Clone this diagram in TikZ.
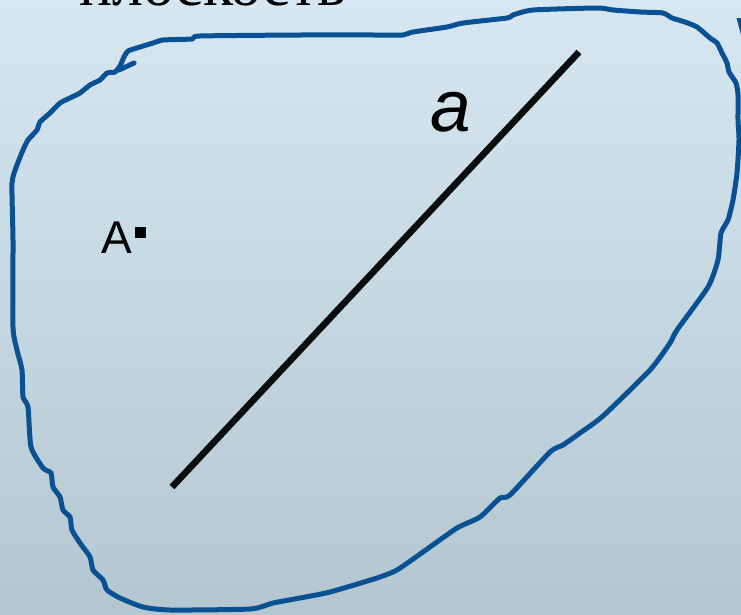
\documentclass[tikz,border=0pt]{standalone}
\usepackage{fontspec}
\setmainfont{Liberation Serif}
\setsansfont{Liberation Sans}
\usepackage{tikz}
\usetikzlibrary{calc}

\begin{document}
\begin{tikzpicture}[
  x=1pt,y=-1pt,
  line cap=round,line join=round,
  outline/.style={line width=5pt,draw=planeblue},
  segment/.style={line width=6.6pt,line cap=butt,draw=black!95},
  dotmark/.style={fill=black,inner sep=0pt,minimum size=11pt},
  label/.style={font=\sffamily\fontsize{46}{46}\selectfont,inner sep=0pt}
]
  \definecolor{planeblue}{RGB}{10,81,148}
  \definecolor{bgtop}{RGB}{214,231,241}
  \definecolor{bgbottom}{RGB}{180,199,209}

  % Background
  \shade[top color=bgtop,bottom color=bgbottom] (0,0) rectangle (741,614);
  \useasboundingbox (0,0) rectangle (741,614);

  % Title, cut at the top edge
  \node[anchor=base west,inner sep=0pt,font=\fontsize{62}{62}\selectfont] (title) at (79,5) {плоскость};
  \fill[planeblue] (736.5,18) -- (741,18) -- (741,35) -- cycle;

  % Plane outline
  \draw[outline] plot[smooth cycle,tension=0.35] coordinates {
    (120,66) (124,57) (128,51) (140,47) (153,43) (163,40) (192,39) (200,36)
    (300,35) (380,35) (403,35) (413,32) (447,27) (463,23) (507,18) (513,15)
    (533,10) (597,8) (613,10) (640,12) (663,13) (672,18) (685,22) (697,27)
    (710,38) (717,43) (722,53) (727,63) (729,72) (736,83) (738,95) (738,120)
    (739,140) (737,173) (733,200) (728,220) (721,233) (718,260) (708,287)
    (677,330) (670,343) (650,370) (603,416) (580,433) (563,445) (550,452)
    (510,495) (500,498) (480,517) (457,528) (423,552) (397,570) (377,578)
    (330,592) (300,598) (273,603) (250,609) (170,610) (143,607) (120,598)
    (107,590) (103,580) (93,570) (90,557) (80,543) (72,530) (70,517)
    (63,510) (60,497) (53,487) (51,473) (43,468) (31,447) (28,407) (23,397)
    (22,370) (17,350) (13,327) (13,240) (12,183) (17,165) (23,150) (28,140)
    (37,130) (40,122) (50,113) (60,103) (72,97) (80,93) (90,85) (100,80)
    (107,73) (115,72)};
  \draw[outline] (119,70) -- (134,63);

  % Line a
  \coordinate (lo) at (172,487);
  \coordinate (hi) at (579,52);
  \draw[segment] (lo) -- (hi);
  \node[font=\sffamily\itshape\fontsize{73}{73}\selectfont,inner sep=0pt] (lbla) at (451,112) {a};

  % Point A
  \node[dotmark] (ptA) at (140,232) {};
  \node[label,anchor=east] (lblA) at (132,238) {A};
\end{tikzpicture}
\end{document}
